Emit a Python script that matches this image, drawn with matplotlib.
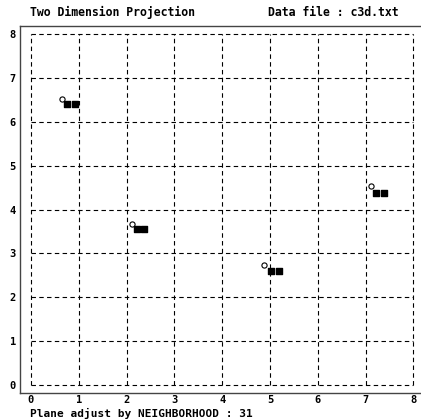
import numpy as np
import matplotlib.pyplot as plt

# projected samples (open circles) and their neighbourhood units (filled squares)
sample_x = [0.64, 2.11, 4.88, 7.12]
sample_y = [6.53, 3.68, 2.74, 4.53]
unit_x = [0.75, 0.92, 2.21, 2.37, 5.02, 5.18, 7.22, 7.39]
unit_y = [6.40, 6.40, 3.55, 3.55, 2.60, 2.60, 4.39, 4.39]

ticks = list(range(0, 9))

mono = "DejaVu Sans Mono"

fig = plt.figure(figsize=(4.21, 4.19), dpi=100)
ax = fig.add_axes([20 / 421, 26 / 419, 401 / 421, 367 / 419])

ax.set_xlim(-0.23, 8.16)
ax.set_ylim(-0.183, 8.19)

# dashed grid inside the box 0..8
for t in ticks:
    ax.plot([t, t], [0, 8], color="black", lw=0.8, ls=(0, (4, 3)))
    ax.plot([0, 8], [t, t], color="black", lw=0.8, ls=(0, (4, 3)))

ax.scatter(sample_x, sample_y, s=14, facecolors="white", edgecolors="black",
           linewidths=0.8, zorder=3)
ax.scatter(unit_x, unit_y, s=22, marker="s", color="black", zorder=3)

ax.set_xticks(ticks)
ax.set_yticks(ticks)
ax.set_xticklabels([str(t) for t in ticks], family=mono, fontweight="bold", fontsize=7.5)
ax.set_yticklabels([str(t) for t in ticks], family=mono, fontweight="bold", fontsize=7.5)
ax.tick_params(axis="x", length=0, pad=1.5)
ax.tick_params(axis="y", length=0, pad=3)

ax.spines["right"].set_visible(False)
for s in ["left", "top", "bottom"]:
    ax.spines[s].set_linewidth(1.0)
    ax.spines[s].set_color("#444444")

fig.text(30 / 421, 1 - 12 / 419, "Two Dimension Projection", family=mono,
         fontweight="bold", fontsize=8.3, va="center")
fig.text(268 / 421, 1 - 12 / 419, "Data file : c3d.txt", family=mono,
         fontweight="bold", fontsize=8.3, va="center")
fig.text(30 / 421, 1 - 413 / 419, "Plane adjust by NEIGHBORHOOD : 31", family=mono,
         fontweight="bold", fontsize=8, va="center")

fig.savefig("out.png", dpi=100, facecolor="white")
